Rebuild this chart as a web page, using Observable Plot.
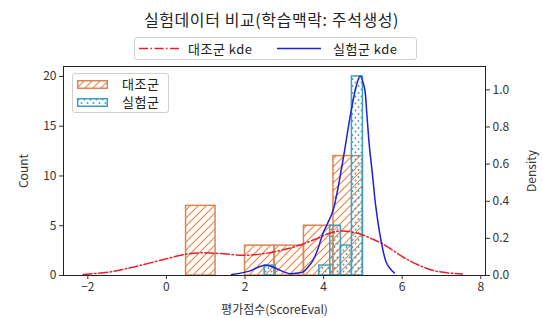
<!DOCTYPE html>
<html><head><meta charset="utf-8">
<script src="https://cdn.jsdelivr.net/npm/d3@7"></script>
<script src="https://cdn.jsdelivr.net/npm/@observablehq/plot@0.6"></script>
<style>
body{margin:0;background:#fff;font-family:"Noto Sans CJK KR","Noto Sans",sans-serif;}
#wrap{position:relative;width:543px;height:318px;overflow:hidden;}
#title{position:absolute;left:0;top:7px;width:543px;text-align:center;font-size:16px;letter-spacing:0.6px;color:#222;}
#legend{position:absolute;left:134px;top:37px;width:281px;height:21px;border:1px solid #d0d0d0;border-radius:3px;background:rgba(255,255,255,.8);font-size:13px;letter-spacing:0.5px;color:#222;}
#legend .it{position:absolute;top:1px;line-height:19px;white-space:nowrap;}
#chart{position:absolute;left:0;top:60px;}
#hl{position:absolute;left:72px;top:73px;width:95px;height:38px;border:1px solid #d0d0d0;border-radius:3px;background:rgba(255,255,255,.8);font-size:13px;letter-spacing:0.5px;color:#222;}
#hl .row{position:absolute;left:4px;height:18px;line-height:18px;}
#hl svg{position:absolute;left:0;top:5px;}
#hl span{position:absolute;left:45px;top:0;white-space:nowrap;}
</style></head>
<body>
<div id="wrap">
  <div id="title">실험데이터 비교(학습맥락: 주석생성)</div>
  <div id="legend"></div>
  <div id="chart"></div>
  <div id="hl"></div>
</div>
<script>
// ---- data ----
const ctrlEdges = [0.5, 1.25, 2.0, 2.75, 3.5, 4.25, 5.0];
const ctrlCounts = [7, 0, 3, 3, 5, 12];
const expEdges = [2.5, 2.78, 3.06, 3.33, 3.61, 3.89, 4.17, 4.44, 4.72, 5.0];
const expCounts = [1, 0, 0, 0, 0, 1, 5, 3, 20];

const ctrlKdeX = [-2.12, -1.42, -1.0, -0.66, -0.15, 0.0, 0.48, 0.86, 1.37, 1.96, 2.3, 2.72, 3.1, 3.48, 3.9, 4.24, 4.57, 4.91, 5.2, 5.46, 5.8, 6.09, 6.4, 6.77, 7.1, 7.53];
const ctrlKdeY = [0.005, 0.02, 0.038, 0.055, 0.082, 0.09, 0.114, 0.122, 0.118, 0.109, 0.113, 0.127, 0.145, 0.17, 0.205, 0.234, 0.239, 0.225, 0.2, 0.175, 0.13, 0.091, 0.058, 0.028, 0.016, 0.008];
const expKdeX = [1.66, 2.13, 2.3, 2.51, 2.65, 2.8, 3.0, 3.14, 3.3, 3.48, 3.6, 3.73, 3.85, 3.98, 4.1, 4.24, 4.49, 4.6, 4.70, 4.83, 4.93, 5.04, 5.1, 5.16, 5.25, 5.33, 5.46, 5.59, 5.7, 5.80];
const expKdeY = [0.005, 0.025, 0.042, 0.055, 0.05, 0.038, 0.018, 0.01, 0.012, 0.02, 0.045, 0.082, 0.14, 0.225, 0.28, 0.35, 0.618, 0.76, 0.886, 1.02, 1.074, 1.01, 0.87, 0.708, 0.53, 0.368, 0.19, 0.073, 0.035, 0.014];

const xTicks = [-2, 0, 2, 4, 6, 8];
const countTicks = [0, 5, 10, 15, 20];
const densTicks = [0.0, 0.2, 0.4, 0.6, 0.8, 1.0];
const K = 18.65; // density -> count units (twin axis)

const ORANGE = "#dd8452", TEAL = "#3f9fc2", RED = "#e8202a", BLUE = "#1f1fd6";

const ctrlBars = ctrlCounts.map((c, i) => ({x1: ctrlEdges[i], x2: ctrlEdges[i+1], y: c})).filter(d => d.y > 0);
const expBars = expCounts.map((c, i) => ({x1: expEdges[i], x2: expEdges[i+1], y: c})).filter(d => d.y > 0);
const ctrlKde = ctrlKdeX.map((x, i) => ({x, d: ctrlKdeY[i]}));
const expKde = expKdeX.map((x, i) => ({x, d: expKdeY[i]}));

const font = '"Noto Sans CJK KR","Noto Sans",sans-serif';

const patternDefs = (pre) => `
  <pattern id="${pre}hatch" patternUnits="userSpaceOnUse" width="8" height="8">
    <path d="M-2,2 L2,-2 M0,8 L8,0 M6,10 L10,6" stroke="#e8884a" stroke-width="1.2" fill="none"/>
  </pattern>
  <pattern id="${pre}dot" patternUnits="userSpaceOnUse" width="6" height="7">
    <circle cx="1.5" cy="1.5" r="0.95" fill="#3f9fc2" stroke="none"/>
    <circle cx="4.5" cy="5" r="0.95" fill="#3f9fc2" stroke="none"/>
  </pattern>`;

const chart = Plot.plot({
  width: 543, height: 258,
  marginTop: 6, marginBottom: 43, marginLeft: 63, marginRight: 58,
  style: {fontFamily: font, fontSize: "11px", color: "#333", background: "transparent"},
  x: {domain: [-2.62, 8.12]},
  y: {domain: [0, 21]},
  marks: [
    Plot.rectY(ctrlBars, {x1: "x1", x2: "x2", y: "y", fill: "url(#phatch)", stroke: ORANGE, strokeWidth: 1.5}),
    Plot.rectY(expBars, {x1: "x1", x2: "x2", y: "y", fill: "url(#pdot)", stroke: TEAL, strokeWidth: 1.5}),
    Plot.line(ctrlKde, {x: "x", y: d => d.d * K, stroke: RED, strokeWidth: 1.5, strokeDasharray: "9,2.5,1.5,2.5", curve: "catmull-rom"}),
    Plot.line(expKde, {x: "x", y: d => d.d * K, stroke: BLUE, strokeWidth: 1.5, curve: "catmull-rom"}),
    Plot.frame({stroke: "#222", strokeWidth: 1}),
    Plot.axisX({ticks: xTicks, tickSize: 4, tickPadding: 3, fontSize: 12, label: "평가점수(ScoreEval)", labelAnchor: "center", labelArrow: "none", labelOffset: 38}),
    Plot.axisY({anchor: "left", ticks: countTicks, tickSize: 4, tickPadding: 3, fontSize: 12, label: "Count", labelAnchor: "center", labelArrow: "none", labelOffset: 44}),
    Plot.axisY({anchor: "right", ticks: densTicks.map(d => d * K), tickFormat: d => (d / K).toFixed(1), tickSize: 4, tickPadding: 3, fontSize: 12, label: "Density", labelAnchor: "center", labelArrow: "none", labelOffset: 50})
  ]
});
const defs = document.createElementNS("http://www.w3.org/2000/svg", "defs");
defs.innerHTML = patternDefs("p");
chart.insertBefore(defs, chart.firstChild);
document.getElementById("chart").appendChild(chart);

// top legend (KDE lines)
const lg = document.getElementById("legend");
lg.innerHTML = `
 <svg class="it" style="left:4px;top:0" width="42" height="21"><line x1="0" y1="10.5" x2="40" y2="10.5" stroke="${RED}" stroke-width="1.5" stroke-dasharray="9,2.5,1.5,2.5"/></svg>
 <span class="it" style="left:53px">대조군 kde</span>
 <svg class="it" style="left:142px;top:0" width="45" height="21"><line x1="0" y1="10.5" x2="44" y2="10.5" stroke="${BLUE}" stroke-width="1.5"/></svg>
 <span class="it" style="left:198px">실험군 kde</span>`;

// histogram legend
const hl = document.getElementById("hl");
hl.innerHTML = `
 <div class="row" style="top:1px"><svg width="31" height="9"><defs>${patternDefs("l")}</defs><rect x="0.75" y="0.75" width="29.5" height="7.5" fill="url(#lhatch)" stroke="${ORANGE}" stroke-width="1.5"/></svg><span>대조군</span></div>
 <div class="row" style="top:19px"><svg width="31" height="9"><rect x="0.75" y="0.75" width="29.5" height="7.5" fill="url(#ldot)" stroke="${TEAL}" stroke-width="1.5"/></svg><span>실험군</span></div>`;
</script>
</body></html>
